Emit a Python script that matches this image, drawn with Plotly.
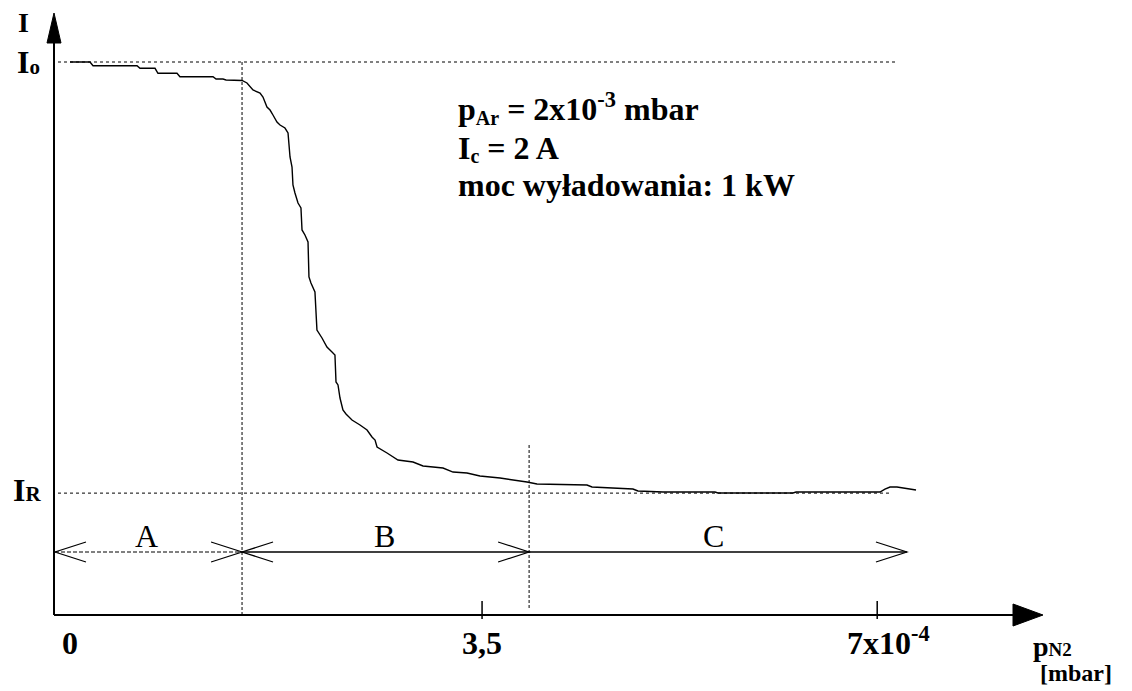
import plotly.graph_objects as go

# ---------------- data (x in 1e-4 mbar, I relative to I0) ----------------
p_n2 = [0.136, 0.306, 0.332, 0.706, 0.731, 0.859, 0.884, 1.046, 1.071, 1.352,
        1.378, 1.437, 1.463, 1.599, 1.641, 1.667, 1.692, 1.752, 1.777, 1.811,
        1.837, 1.862, 1.896, 1.922, 1.964, 1.990, 2.007, 2.024, 2.032, 2.049,
        2.075, 2.100, 2.109, 2.134, 2.160, 2.168, 2.185, 2.219, 2.228, 2.236,
        2.279, 2.321, 2.364, 2.389, 2.398, 2.415, 2.432, 2.457, 2.483, 2.534,
        2.602, 2.662, 2.704, 2.730, 2.747, 2.772, 2.832, 2.925, 3.002, 3.053,
        3.138, 3.308, 3.393, 3.512, 3.622, 3.793, 4.022, 4.107, 4.532, 4.575,
        4.923, 4.966, 5.179, 5.621, 5.646, 6.284, 6.310, 7.024, 7.066, 7.109,
        7.168, 7.330]
current = [1.000, 1.000, 0.9933, 0.9933, 0.9886, 0.9886, 0.9795, 0.9795, 0.9734, 0.9734,
           0.9692, 0.9692, 0.9674, 0.9665, 0.9620, 0.9547, 0.9493, 0.9438, 0.9366, 0.9185,
           0.9130, 0.9040, 0.8913, 0.8859, 0.8804, 0.8714, 0.8279, 0.8098, 0.7772, 0.7627,
           0.7446, 0.7355, 0.6957, 0.6866, 0.6739, 0.6105, 0.5996, 0.5833, 0.5326, 0.5145,
           0.5000, 0.4837, 0.4746, 0.4692, 0.4203, 0.4149, 0.3913, 0.3696, 0.3623, 0.3514,
           0.3424, 0.3333, 0.3207, 0.3152, 0.3025, 0.2989, 0.2917, 0.2790, 0.2772, 0.2754,
           0.2681, 0.2645, 0.2572, 0.2554, 0.2500, 0.2464, 0.2391, 0.2355, 0.2337, 0.2301,
           0.2264, 0.2228, 0.2210, 0.2210, 0.2192, 0.2192, 0.2210, 0.2210, 0.2264, 0.2301,
           0.2301, 0.2246]

I0 = 1.0            # initial current level
IR = 0.219          # reactive-mode current level
region_bounds = [0.0, 1.599, 4.04, 7.253]   # borders of regions A | B | C
region_names = ["A", "B", "C"]
tick_values = [3.64, 7.0]
tick_labels = ["0", "3,5", "7x10<sup>-4</sup>"]

# ---------------- geometry helpers (axis scale) ----------------
PX_X = 117.6   # pixels per x unit
PX_Y = 552.0   # pixels per y unit
X0_PX, Y0_PX = 54.0, 614.0
xr = [-X0_PX / PX_X, (1132 - X0_PX) / PX_X]
yr = [(Y0_PX - 691) / PX_Y, Y0_PX / PX_Y]

def dx(px):
    return px / PX_X

def dy(px):
    return px / PX_Y

fig = go.Figure()

fig.add_trace(go.Scatter(x=p_n2, y=current, mode="lines",
                         line=dict(color="black", width=1.4),
                         hoverinfo="skip", showlegend=False))

shapes = []
blk = "black"
# axes
ax_y = -dy(1)
shapes.append(dict(type="line", xref="x", yref="y", x0=0, x1=dx(1013 - 54), y0=ax_y, y1=ax_y,
                   line=dict(color=blk, width=2)))
shapes.append(dict(type="line", xref="x", yref="y", x0=0, x1=0, y0=ax_y, y1=dy(614 - 43),
                   line=dict(color=blk, width=2)))
# arrowheads of axes
tx, bx, hw = dx(1043 - 54), dx(1013 - 54), dy(11)
shapes.append(dict(type="path", xref="x", yref="y",
                   path=f"M {bx} {ax_y + hw} L {tx} {ax_y} L {bx} {ax_y - hw} Z",
                   fillcolor=blk, line=dict(color=blk, width=1)))
ty, by, hwx = dy(614 - 13), dy(614 - 43), dx(7)
shapes.append(dict(type="path", xref="x", yref="y",
                   path=f"M {-hwx} {by} L 0 {ty} L {hwx} {by} Z",
                   fillcolor=blk, line=dict(color=blk, width=1)))
# ticks
for tv in tick_values:
    shapes.append(dict(type="line", xref="x", yref="y", x0=tv, x1=tv,
                       y0=ax_y - dy(4), y1=ax_y + dy(14), line=dict(color=blk, width=1.5)))
# I0 and IR dotted levels
shapes.append(dict(type="line", xref="x", yref="y", x0=dx(4), x1=dx(898 - 54), y0=I0, y1=I0,
                   line=dict(color=blk, width=1, dash="dot")))
shapes.append(dict(type="line", xref="x", yref="y", x0=dx(4), x1=dx(892 - 54), y0=IR, y1=IR,
                   line=dict(color=blk, width=1, dash="dot")))
# vertical region borders
shapes.append(dict(type="line", xref="x", yref="y", x0=region_bounds[1], x1=region_bounds[1],
                   y0=I0, y1=ax_y, line=dict(color=blk, width=1, dash="3px,2px")))
shapes.append(dict(type="line", xref="x", yref="y", x0=region_bounds[2], x1=region_bounds[2],
                   y0=dy(614 - 445), y1=dy(614 - 608), line=dict(color=blk, width=1, dash="3px,2px")))
# region arrows
ya = dy(614 - 552)
L, H = dx(31), dy(10)
shapes.append(dict(type="line", xref="x", yref="y", x0=region_bounds[0] + dx(1), x1=region_bounds[1],
                   y0=ya, y1=ya, line=dict(color=blk, width=1, dash="4px,2px")))
shapes.append(dict(type="line", xref="x", yref="y", x0=region_bounds[1], x1=region_bounds[3],
                   y0=ya, y1=ya, line=dict(color=blk, width=1.3)))

def head(xt, direction):
    xb = xt - direction * L
    return dict(type="path", xref="x", yref="y",
                path=f"M {xb} {ya + H} L {xt} {ya} L {xb} {ya - H}",
                line=dict(color=blk, width=1.2))

shapes.append(head(region_bounds[0] + dx(1), -1))
shapes.append(head(region_bounds[1], 1))
shapes.append(head(region_bounds[1], -1))
shapes.append(head(region_bounds[2], 1))
shapes.append(head(region_bounds[3], 1))

ann = []
serif = "Liberation Serif"

def text(x, y, s, size=32, bold=True, xanchor="left", yanchor="middle"):
    ann.append(dict(x=x, y=y, xref="x", yref="y", text=(f"<b>{s}</b>" if bold else s),
                    showarrow=False, xanchor=xanchor, yanchor=yanchor,
                    font=dict(family=serif, size=size, color=blk)))

def low(s, size, shift):
    return f"<span style='font-size:{size}px;baseline-shift:-{shift}px'>{s}</span>"

# region letters
for i, nm in enumerate(region_names):
    cx = [dx(146 - 54), dx(384 - 54), dx(713 - 54)][i]
    text(cx, dy(614 - 536), nm, size=32, bold=False, xanchor="center")

# y-axis labels
text(dx(16 - 54), dy(614 - 22), "I", size=28)
text(dx(15 - 54), dy(614 - 62), "I" + low("o", 21, 1), size=32)
text(dx(11 - 54), dy(614 - 490), "I" + low("R", 21, 0), size=32)

# x tick labels
text(dx(70 - 54), dy(614 - 643), tick_labels[0], xanchor="center")
text(tick_values[0], dy(614 - 643), tick_labels[1], xanchor="center")
text(dx(845 - 54), dy(614 - 641), tick_labels[2], xanchor="left")

# x-axis title
text(dx(1031 - 54), dy(614 - 646), "p" + low("N2", 19, 0), size=28)
text(dx(1038 - 54), dy(614 - 673), "[mbar]", size=24)

# process parameters
text(dx(456 - 54), dy(614 - 108), "p" + low("Ar", 20, 5) + " = 2x10<sup>-3</sup> mbar")
text(dx(456 - 54), dy(614 - 148), "I" + low("c", 20, 4) + " = 2 A")
text(dx(456 - 54), dy(614 - 185), "moc wyładowania: 1 kW")

fig.update_layout(
    width=1132, height=691,
    margin=dict(l=0, r=0, t=0, b=0),
    paper_bgcolor="white", plot_bgcolor="white",
    xaxis=dict(range=xr, visible=False, fixedrange=True),
    yaxis=dict(range=yr, visible=False, fixedrange=True),
    shapes=shapes, annotations=ann, showlegend=False,
)

fig.write_html("out.html", config={"displayModeBar": False},
               post_script="document.body.style.margin='0';document.body.style.padding='0';")
